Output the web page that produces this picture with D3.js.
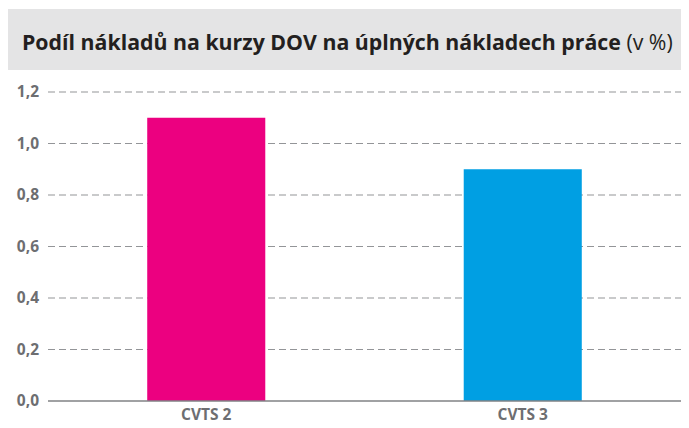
<!DOCTYPE html>
<html>
<head>
<meta charset="utf-8">
<script src="https://cdn.jsdelivr.net/npm/d3@7"></script>
<style>
  body { margin: 0; background: #fff; }
  svg { display: block; font-family: "Open Sans", sans-serif; }
</style>
</head>
<body>
<script>
// Chart data
var categories = ["CVTS 2", "CVTS 3"];
var values = [1.1, 0.9];
var colors = ["#ec0080", "#009fe3"];
var yTicks = [0, 0.2, 0.4, 0.6, 0.8, 1.0, 1.2];

var width = 689,
    height = 428;

var svg = d3.select("body")
    .append("svg")
    .attr("width", width)
    .attr("height", height);

// Title band
svg.append("rect")
    .attr("x", 8)
    .attr("y", 9)
    .attr("width", 673)
    .attr("height", 61)
    .attr("fill", "#e4e4e5");

var title = svg.append("text")
    .attr("x", 22)
    .attr("y", 50)
    .attr("fill", "#231f20")
    .style("font-size", "21.3px");
title.append("tspan")
    .attr("font-weight", "bold")
    .text("Podíl nákladů na kurzy DOV na úplných nákladech práce");
title.append("tspan")
    .attr("font-weight", "normal")
    .text(" (v %)");

// Scales
var x = d3.scaleBand()
    .domain(categories)
    .range([48, 681])
    .paddingInner(0.627)
    .paddingOuter(0.3135);

var y = d3.scaleLinear()
    .domain([0, 1.2])
    .range([401, 92]);

var fmt = function(d) { return d3.format(".1f")(d).replace(".", ","); };

// Gridlines
svg.selectAll(".grid")
    .data(yTicks.filter(function(d) { return d > 0; }))
    .enter()
    .append("line")
    .attr("class", "grid")
    .attr("x1", 48)
    .attr("x2", 681)
    .attr("y1", function(d) { return y(d); })
    .attr("y2", function(d) { return y(d); })
    .attr("stroke", "#939598")
    .attr("stroke-width", 1.2)
    .attr("stroke-dasharray", "7,4");

// Y labels
svg.selectAll(".ylab")
    .data(yTicks)
    .enter()
    .append("text")
    .attr("class", "ylab")
    .attr("x", 39)
    .attr("y", function(d) { return y(d); })
    .attr("dy", "0.35em")
    .attr("text-anchor", "end")
    .attr("fill", "#6d6e71")
    .attr("font-weight", "bold")
    .style("font-size", "15.5px")
    .text(fmt);

// Bars
svg.selectAll(".bar")
    .data(values)
    .enter()
    .append("rect")
    .attr("class", "bar")
    .attr("x", function(d, i) { return x(categories[i]); })
    .attr("width", x.bandwidth())
    .attr("y", function(d) { return y(d); })
    .attr("height", function(d) { return y(0) - y(d); })
    .attr("fill", function(d, i) { return colors[i]; });

// Baseline
svg.append("line")
    .attr("x1", 48)
    .attr("x2", 681)
    .attr("y1", y(0))
    .attr("y2", y(0))
    .attr("stroke", "#808285")
    .attr("stroke-width", 1.3);

// X labels
svg.selectAll(".xlab")
    .data(categories)
    .enter()
    .append("text")
    .attr("class", "xlab")
    .attr("x", function(d) { return x(d) + x.bandwidth() / 2; })
    .attr("y", 420)
    .attr("text-anchor", "middle")
    .attr("fill", "#6d6e71")
    .attr("font-weight", "bold")
    .style("font-size", "15.5px")
    .text(function(d) { return d; });
</script>
</body>
</html>
